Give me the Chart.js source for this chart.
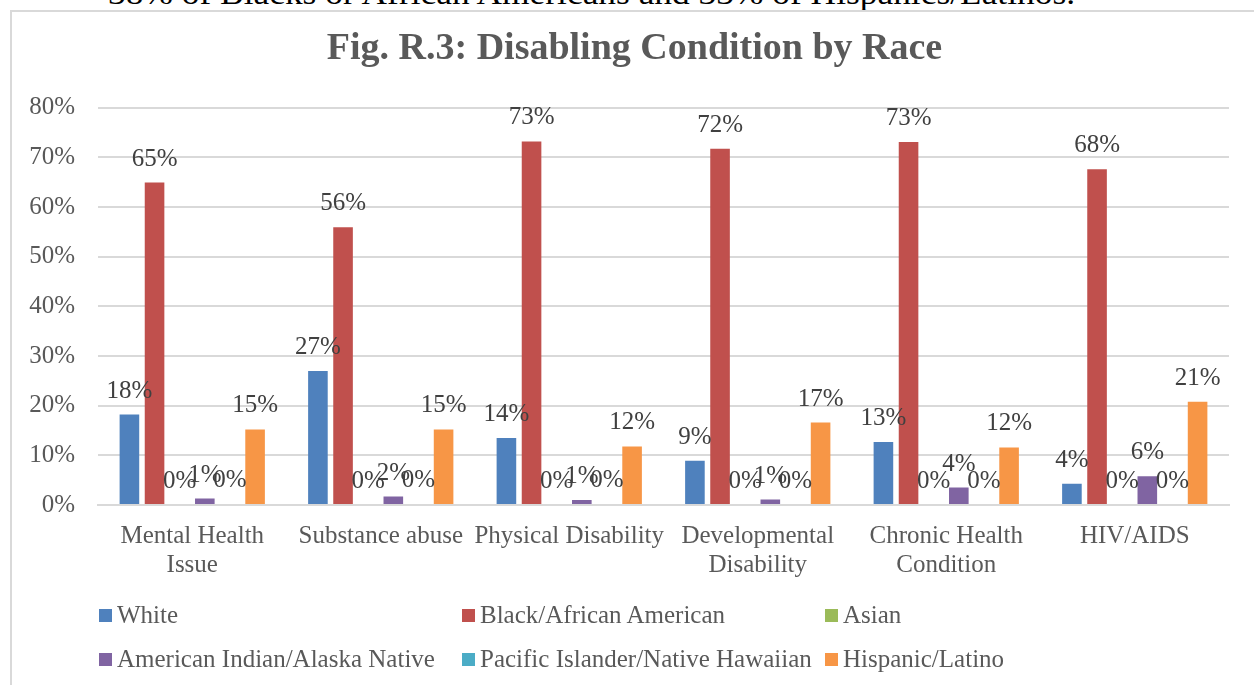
<!DOCTYPE html>
<html>
<head>
<meta charset="utf-8">
<script src="https://cdn.jsdelivr.net/npm/chart.js@4/dist/chart.umd.min.js"></script>
<style>
  html, body { margin: 0; padding: 0; background: #ffffff; }
  body { width: 1254px; height: 685px; position: relative; overflow: hidden; font-family: 'Liberation Serif', serif; }
  #frame { position: absolute; left: 10px; top: 10px; width: 1300px; height: 700px; border-left: 2px solid #d9d9d9; border-top: 2px solid #d9d9d9; }
  #wrap { position: absolute; left: 0; top: 0; width: 1254px; height: 685px; }
  #cut { position: absolute; left: 0; top: 0; }
  .lg { position: absolute; font-size: 25px; line-height: 25px; color: #595959; white-space: nowrap; }
  .mk { position: absolute; width: 13px; height: 13px; }
</style>
</head>
<body>
<svg id="cut" width="1254" height="12"><text x="108" y="4" font-family="Liberation Serif" font-size="32" fill="#000" textLength="967" lengthAdjust="spacingAndGlyphs">38% of Blacks or African Americans and 33% of Hispanics/Latinos.</text></svg>
<div id="frame"></div>
<div id="wrap"><canvas id="c" width="1254" height="685"></canvas></div>
<div id="legend"></div>
<script>
const chartTitle = 'Fig. R.3: Disabling Condition by Race';
const categories = [['Mental Health', 'Issue'], 'Substance abuse', 'Physical Disability', ['Developmental', 'Disability'], ['Chronic Health', 'Condition'], 'HIV/AIDS'];
const seriesNames = ['White', 'Black/African American', 'Asian', 'American Indian/Alaska Native', 'Pacific Islander/Native Hawaiian', 'Hispanic/Latino'];
const seriesColors = ['#4f81bd', '#c0504d', '#9bbb59', '#8064a2', '#4bacc6', '#f79646'];
const white    = [18.2, 27.0, 13.5, 8.9, 12.7, 4.3];
const black    = [64.9, 55.9, 73.2, 71.7, 73.1, 67.6];
const asian    = [0, 0, 0, 0, 0, 0];
const amIndian = [1.3, 1.7, 1.0, 1.1, 3.5, 5.8];
const pacific  = [0.2, 0.2, 0.2, 0, 0, 0];
const hispanic = [15.2, 15.2, 11.8, 16.6, 11.6, 20.8];
const yTicks = [0, 10, 20, 30, 40, 50, 60, 70, 80];

const seriesValues = [white, black, asian, amIndian, pacific, hispanic];
const FONT = 'Liberation Serif';

const dataLabels = {
  id: 'dataLabels',
  afterDatasetsDraw(chart) {
    const ctx = chart.ctx;
    ctx.save();
    ctx.font = '25px "' + FONT + '"';
    ctx.fillStyle = '#404040';
    ctx.textAlign = 'center';
    ctx.textBaseline = 'alphabetic';
    chart.data.datasets.forEach((ds, i) => {
      const meta = chart.getDatasetMeta(i);
      meta.data.forEach((el, j) => {
        ctx.fillText(Math.round(ds.data[j]) + '%', el.x, el.y - 17);
      });
    });
    ctx.restore();
  }
};

// shift the title block so it is centred where the reference centres it
const titleShift = {
  id: 'titleShift',
  afterLayout(chart) {
    const tb = chart.titleBlock;
    if (tb) { tb.left += 20; tb.right += 20; }
  }
};

new Chart(document.getElementById('c'), {
  type: 'bar',
  data: {
    labels: categories,
    datasets: seriesNames.map((n, i) => ({
      label: n,
      data: seriesValues[i],
      backgroundColor: seriesColors[i],
      borderWidth: 0,
      categoryPercentage: 0.8,
      barPercentage: 0.78
    }))
  },
  options: {
    responsive: false,
    animation: false,
    devicePixelRatio: 1,
    layout: { padding: { left: 0, right: 25, top: 0, bottom: 100 } },
    plugins: {
      legend: { display: false },
      tooltip: { enabled: false },
      title: {
        display: true,
        text: chartTitle,
        color: '#595959',
        font: { family: FONT, size: 38, weight: 'bold', lineHeight: 1.2 },
        padding: { top: 26, bottom: 36 }
      }
    },
    scales: {
      x: {
        grid: { display: false, drawTicks: false },
        border: { display: true, color: '#d9d9d9', width: 2 },
        ticks: { color: '#595959', font: { family: FONT, size: 25, lineHeight: 1.16 }, padding: 17, maxRotation: 0, autoSkip: false },
        afterFit(scale) { scale.height = 80; }
      },
      y: {
        min: 0, max: 80,
        afterBuildTicks(scale) { scale.ticks = yTicks.map(v => ({ value: v })); },
        grid: { color: '#d9d9d9', lineWidth: 2, drawTicks: false },
        border: { display: false },
        ticks: { color: '#595959', font: { family: FONT, size: 25 }, padding: 23, callback: v => v + '%' },
        afterFit(scale) { scale.width = 98; }
      }
    }
  },
  plugins: [dataLabels, titleShift]
});

// Legend built from the series arrays
const legend = document.getElementById('legend');
const colX = [99, 462, 825];
const rowY = [609, 653];
seriesNames.forEach((n, i) => {
  const col = i % 3, row = Math.floor(i / 3);
  const mk = document.createElement('div');
  mk.className = 'mk';
  mk.style.left = colX[col] + 'px';
  mk.style.top = rowY[row] + 'px';
  mk.style.background = seriesColors[i];
  legend.appendChild(mk);
  const t = document.createElement('div');
  t.className = 'lg';
  t.style.left = (colX[col] + 18) + 'px';
  t.style.top = (rowY[row] - 7) + 'px';
  t.textContent = n;
  legend.appendChild(t);
});
</script>
</body>
</html>
